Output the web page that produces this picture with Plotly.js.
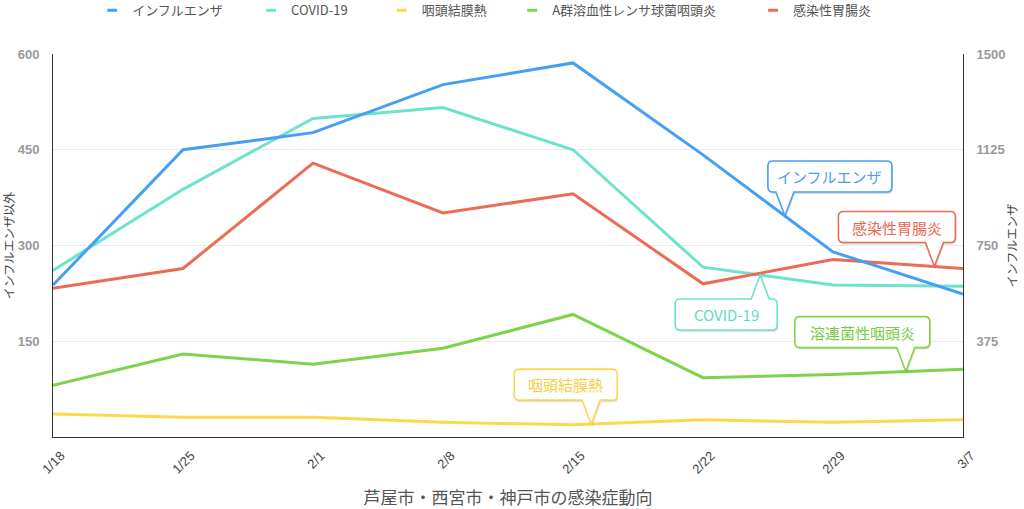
<!DOCTYPE html>
<html><head><meta charset="utf-8">
<script src="https://cdn.plot.ly/plotly-3.0.1.min.js"></script>
<style>html,body{margin:0;padding:0;background:#fff}#chart{width:1024px;height:509px}</style>
</head><body><div id="chart"></div>
<script>
// ---- data ----
const dates = ['1/18','1/25','2/1','2/8','2/15','2/22','2/29','3/7'];
const influenza = [595, 1125, 1192, 1380, 1465, 1105, 725, 560];   // right axis
const covid     = [261, 388, 499, 516, 450, 266, 238, 236];
const pcf       = [36, 31, 31, 23, 19, 27, 23, 27];
const strep     = [81, 130, 114, 139, 192, 93, 98, 106];
const gastro    = [233, 264, 429, 351, 381, 240, 278, 264];
const seriesNames = ['インフルエンザ','COVID-19','咽頭結膜熱','A群溶血性レンサ球菌咽頭炎','感染性胃腸炎'];
const calloutLabels = ['インフルエンザ','COVID-19','咽頭結膜熱','溶連菌性咽頭炎','感染性胃腸炎'];
const leftTicks = [150, 300, 450, 600];
const rightTicks = [375, 750, 1125, 1500];

// ---- styles ----
const JP = '"Noto Sans CJK JP", "Noto Sans", sans-serif';
const colors = ['#469ef5', '#6de2cc', '#fbd94f', '#7fd34c', '#ec6b55'];
const textColors = ['#4a9ef0', '#5fdac4', '#f3cf47', '#78cc46', '#ea6650'];
const values = [influenza, covid, pcf, strep, gastro];
const axes = ['y2', 'y', 'y', 'y', 'y'];
const legendPad = [8, 10, 7, 11, 0];   // spacing after each legend entry (nbsp count)

const traces = [];
values.forEach((v, i) => {
  traces.push({
    x: dates, y: v, yaxis: axes[i], type: 'scatter', mode: 'lines',
    name: seriesNames[i], showlegend: false, hoverinfo: 'skip',
    line: {color: colors[i], width: 3}
  });
});
// legend entries with short dash symbols
values.forEach((v, i) => {
  traces.push({
    x: [dates[0]], y: [null], type: 'scatter', mode: 'markers',
    name: seriesNames[i] + '\u00a0'.repeat(legendPad[i]), showlegend: true,
    marker: {symbol: 'line-ew', size: 7, color: colors[i], line: {width: 3, color: colors[i]}}
  });
});

// ---- callouts: series index, fractional x index, tail direction, box left offset, box width ----
const callouts = [
  {s: 0, xi: 5.63, dir: 'down', L: -17, W: 124},
  {s: 4, xi: 6.78, dir: 'down', L: -96, W: 117},
  {s: 1, xi: 5.44, dir: 'up',   L: -85, W: 102},
  {s: 3, xi: 6.56, dir: 'down', L: -111, W: 135},
  {s: 2, xi: 4.14, dir: 'down', L: -77, W: 103}
];
function interp(arr, xi) {
  const i0 = Math.min(Math.floor(xi), arr.length - 2);
  return arr[i0] + (xi - i0) * (arr[i0 + 1] - arr[i0]);
}
function bubblePath(c, dx, dy) {
  const r = 5, tail = 24, H = 31, hb = 9;
  const L = c.L, R = c.L + c.W;
  let T, B;
  const pts = [];
  const P = (cmd, ...xy) => {
    let s = cmd;
    for (let k = 0; k < xy.length; k += 2) s += ' ' + (xy[k] + dx) + ',' + (-(xy[k + 1] + dy));
    pts.push(s);
  };
  if (c.dir === 'down') {
    B = -tail; T = B - H;
    P('M', L + r, T); P('L', R - r, T); P('Q', R, T, R, T + r); P('L', R, B - r);
    P('Q', R, B, R - r, B); P('L', hb, B); P('L', 0, 0); P('L', -hb, B);
    P('L', L + r, B); P('Q', L, B, L, B - r); P('L', L, T + r); P('Q', L, T, L + r, T);
  } else {
    T = tail; B = T + H;
    P('M', L + r, T); P('L', -hb, T); P('L', 0, 0); P('L', hb, T); P('L', R - r, T);
    P('Q', R, T, R, T + r); P('L', R, B - r); P('Q', R, B, R - r, B); P('L', L + r, B);
    P('Q', L, B, L, B - r); P('L', L, T + r); P('Q', L, T, L + r, T);
  }
  pts.push('Z');
  return {path: pts.join(' '), cx: L + c.W / 2, cy: (T + B) / 2};
}
const shapes = [], annotations = [];
callouts.forEach(c => {
  const tipY = interp(values[c.s], c.xi);
  const base = {type: 'path', xref: 'x', yref: axes[c.s], xsizemode: 'pixel', ysizemode: 'pixel',
                xanchor: c.xi, yanchor: tipY, layer: 'above'};
  const sh = bubblePath(c, 1, 2);
  shapes.push(Object.assign({}, base, {path: sh.path, fillcolor: 'rgba(0,0,0,0.13)', line: {width: 0}}));
  const b = bubblePath(c, 0, 0);
  shapes.push(Object.assign({}, base, {path: b.path, fillcolor: '#ffffff', line: {color: colors[c.s], width: 1.6}}));
  annotations.push({
    xref: 'x', yref: axes[c.s], x: c.xi, y: tipY, showarrow: false,
    xshift: b.cx, yshift: -b.cy, text: calloutLabels[c.s],
    font: {family: JP, size: 15, color: textColors[c.s]}
  });
});

const tickFontY = {family: '"Liberation Sans", Arial, sans-serif', size: 13, color: '#9a9a9a', weight: 'bold'};
const layout = {
  width: 1024, height: 509,
  margin: {l: 53, r: 61, t: 54, b: 72, autoexpand: false},
  paper_bgcolor: '#ffffff', plot_bgcolor: '#ffffff',
  showlegend: true,
  legend: {orientation: 'h', xref: 'container', yref: 'container', x: 0.09, y: 0.98,
           xanchor: 'left', yanchor: 'middle', font: {family: JP, size: 13, color: '#555'},
           itemclick: false, itemdoubleclick: false, bgcolor: 'rgba(0,0,0,0)'},
  xaxis: {type: 'category', categoryorder: 'array', categoryarray: dates, range: [0, 7],
          showline: true, linecolor: '#333', linewidth: 1, showgrid: false, zeroline: false,
          tickangle: -45, ticks: '', ticklabelstandoff: 5, ticklabelshift: 8,
          tickfont: {family: '"Liberation Sans", Arial, sans-serif', size: 13, color: '#444'},
          title: {text: '芦屋市・西宮市・神戸市の感染症動向', font: {family: JP, size: 17, color: '#555'}, standoff: 18},
          automargin: false, fixedrange: true},
  yaxis: {range: [0, 600], tickvals: leftTicks, showgrid: true, gridcolor: '#ebebeb', gridwidth: 1,
          showline: true, linecolor: '#333', linewidth: 1, zeroline: false, ticks: '',
          tickfont: tickFontY, ticklabelstandoff: 10,
          title: {text: 'インフルエンザ以外', font: {family: JP, size: 12, color: '#444'}, standoff: 4},
          automargin: false, fixedrange: true},
  yaxis2: {overlaying: 'y', side: 'right', range: [0, 1500], tickvals: rightTicks, showgrid: false,
           showline: true, linecolor: '#333', linewidth: 1, zeroline: false, ticks: '',
           tickfont: tickFontY, ticklabelstandoff: 10,
           title: {text: 'インフルエンザ', font: {family: JP, size: 12, color: '#444'}, standoff: 4},
           automargin: false, fixedrange: true},
  shapes: shapes, annotations: annotations
};
Plotly.newPlot('chart', traces, layout, {displayModeBar: false, staticPlot: true});
</script>
</body></html>
